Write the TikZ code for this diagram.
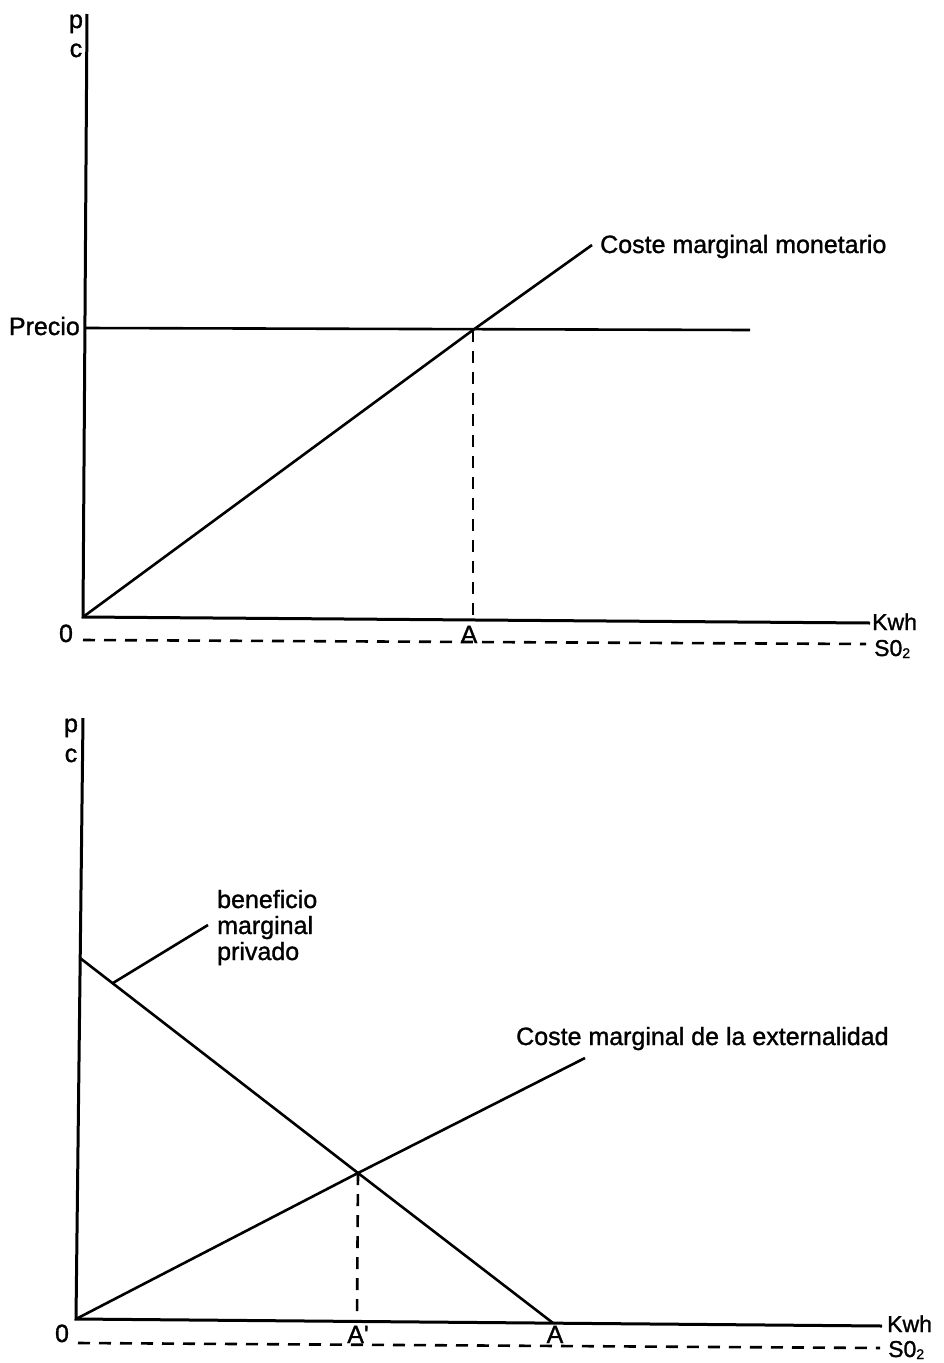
\documentclass[tikz,border=0pt]{standalone}
\usepackage{fontspec}
\setmainfont{Liberation Sans}[FakeBold=1.2]
\newcommand{\sotwo}{S0\raisebox{-2pt}{\fontsize{14}{14}\selectfont 2}}
\begin{document}
\begin{tikzpicture}[x=1pt,y=-1pt,
  lbl/.style={inner sep=0pt,font=\fontsize{25}{28}\selectfont},
  slbl/.style={inner sep=0pt,font=\fontsize{23}{26}\selectfont},
  ax/.style={line width=3pt},
  crv/.style={line width=2.6pt},
  dsh/.style={line width=2.6pt,dash pattern=on 12pt off 9pt}]
\useasboundingbox[fill=white] (0,0) rectangle (944,1363);
% ---------- top graph ----------
\coordinate (T1) at (87,14);
\coordinate (O1) at (83,617);
\coordinate (X1) at (870,623);
\coordinate (D1a) at (83,640);
\coordinate (D1b) at (866,644);
\coordinate (P1a) at (85,328);
\coordinate (P1b) at (750,330);
\coordinate (I1) at (473,330);
\coordinate (C1e) at (592,245);
\coordinate (A1) at (473,620);
\draw[ax] (T1) -- (O1) -- (X1);
\draw[dsh] (D1a) -- (D1b);
\draw[crv] (P1a) -- (P1b);
\draw[crv] (O1) -- (I1) -- (C1e);
\draw[dsh] (I1) -- (A1);
\node[lbl,anchor=base] (p1) at (76,28) {p};
\node[lbl,anchor=base] (c1) at (76,57) {c};
\node[lbl,anchor=base east] (precio) at (80,335) {Precio};
\node[lbl,anchor=base west] (cmm) at (600,253) {Coste marginal monetario};
\node[lbl,anchor=base] (zero1) at (66,642) {0};
\node[lbl,anchor=base] (a1) at (469,643) {A};
\node[slbl,anchor=base west] (kwh1) at (872,630) {Kwh};
\node[slbl,anchor=base west] (so1) at (874,656) {\sotwo};
% ---------- bottom graph ----------
\coordinate (T2) at (83,718);
\coordinate (O2) at (76,1319);
\coordinate (X2) at (882,1326);
\coordinate (D2a) at (78,1343);
\coordinate (D2b) at (880,1348);
\coordinate (B2s) at (80,958);
\coordinate (B2e) at (553,1323);
\coordinate (I2) at (358,1173);
\coordinate (E2e) at (585,1058);
\coordinate (A2p) at (357,1322);
\coordinate (L2a) at (113,983);
\coordinate (L2b) at (208,925);
\draw[ax] (T2) -- (O2) -- (X2);
\draw[dsh] (D2a) -- (D2b);
\draw[crv] (B2s) -- (I2) -- (B2e);
\draw[crv] (O2) -- (I2) -- (E2e);
\draw[dsh] (I2) -- (A2p);
\draw[crv] (L2a) -- (L2b);
\node[lbl,anchor=base] (p2) at (71,732) {p};
\node[lbl,anchor=base] (c2) at (71,762) {c};
\node[lbl,anchor=base west] (ben1) at (217,908) {beneficio};
\node[lbl,anchor=base west] (ben2) at (217,934) {marginal};
\node[lbl,anchor=base west] (ben3) at (217,960) {privado};
\node[lbl,anchor=base west] (cme) at (516,1045) {Coste marginal de la externalidad};
\node[lbl,anchor=base] (zero2) at (62,1342) {0};
\node[lbl,anchor=base] (ap2) at (358,1343) {A\textquotesingle};
\node[lbl,anchor=base] (a2) at (555,1343) {A};
\node[slbl,anchor=base west] (kwh2) at (887,1332) {Kwh};
\node[slbl,anchor=base west] (so2) at (888,1357) {\sotwo};
\end{tikzpicture}
\end{document}
